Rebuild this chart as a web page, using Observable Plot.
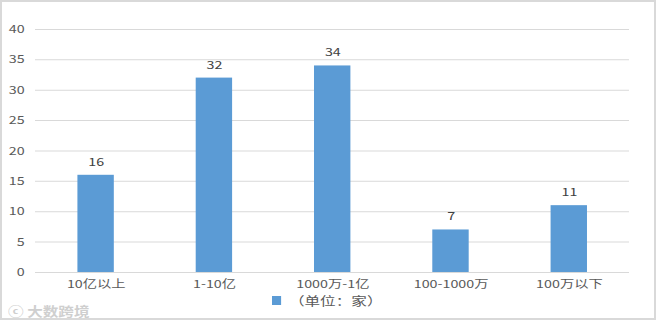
<!DOCTYPE html>
<html>
<head>
<meta charset="utf-8">
<script src="https://cdn.jsdelivr.net/npm/d3@7"></script>
<script src="https://cdn.jsdelivr.net/npm/@observablehq/plot@0.6"></script>
<style>
  html, body { margin: 0; padding: 0; background: #fff; }
  #frame {
    position: relative;
    width: 652px; height: 316px;
    border: 2px solid #d9d9d9;
    background: #fff;
    overflow: hidden;
    font-family: "Noto Sans CJK SC", "Noto Sans", sans-serif;
  }
  #chart svg { transform: scaleX(1.3); transform-origin: 0 0; display: block; }
  #legend {
    position: absolute; left: 270px; top: 290px;
    font-size: 12px; color: #595959; display: flex; align-items: center;
    transform: scaleX(1.3); transform-origin: 0 0;
  }
  #legend .sw { width: 7px; height: 9px; background: #5B9BD5; margin-right: 6px; }
  #wm {
    position: absolute; left: 6px; top: 299px;
    font-size: 13px; color: #cfcfcf; font-weight: bold;
    transform: scaleX(1.2); transform-origin: 0 0;
  }
</style>
</head>
<body>
<div id="frame">
  <div id="chart"></div>
  <div id="legend"><div class="sw"></div><span>（单位：家）</span></div>
  <div id="wm">ⓒ 大数跨境</div>
</div>
<script>
const categories = ["10亿以上", "1-10亿", "1000万-1亿", "100-1000万", "100万以下"];
const values = [16, 32, 34, 7, 11];
const yTicks = [0, 5, 10, 15, 20, 25, 30, 35, 40];

const data = categories.map((c, i) => ({category: c, value: values[i]}));
const k = 1.3;

const chart = Plot.plot({
  width: 652 / k,
  height: 292,
  marginLeft: 33 / k,
  marginRight: 25 / k,
  marginTop: 27,
  marginBottom: 22,
  style: {fontFamily: "'Noto Sans CJK SC', 'Noto Sans', sans-serif", fontSize: "11px", color: "#595959", background: "#fff", overflow: "visible"},
  x: {domain: categories, paddingInner: 0.69, paddingOuter: 0.345, label: null, tickSize: 0, tickPadding: 8},
  y: {domain: [0, 40], ticks: yTicks, label: null, tickSize: 0, tickPadding: 11 / k},
  marks: [
    Plot.gridY(yTicks, {stroke: "#d9d9d9", strokeOpacity: 1, strokeWidth: 1}),
    Plot.barY(data, {x: "category", y: "value", fill: "#5B9BD5"}),
    Plot.text(data, {x: "category", y: "value", text: d => String(d.value), dy: -13, fill: "#404040", fontSize: 11})
  ]
});
document.getElementById("chart").appendChild(chart);
</script>
</body>
</html>
